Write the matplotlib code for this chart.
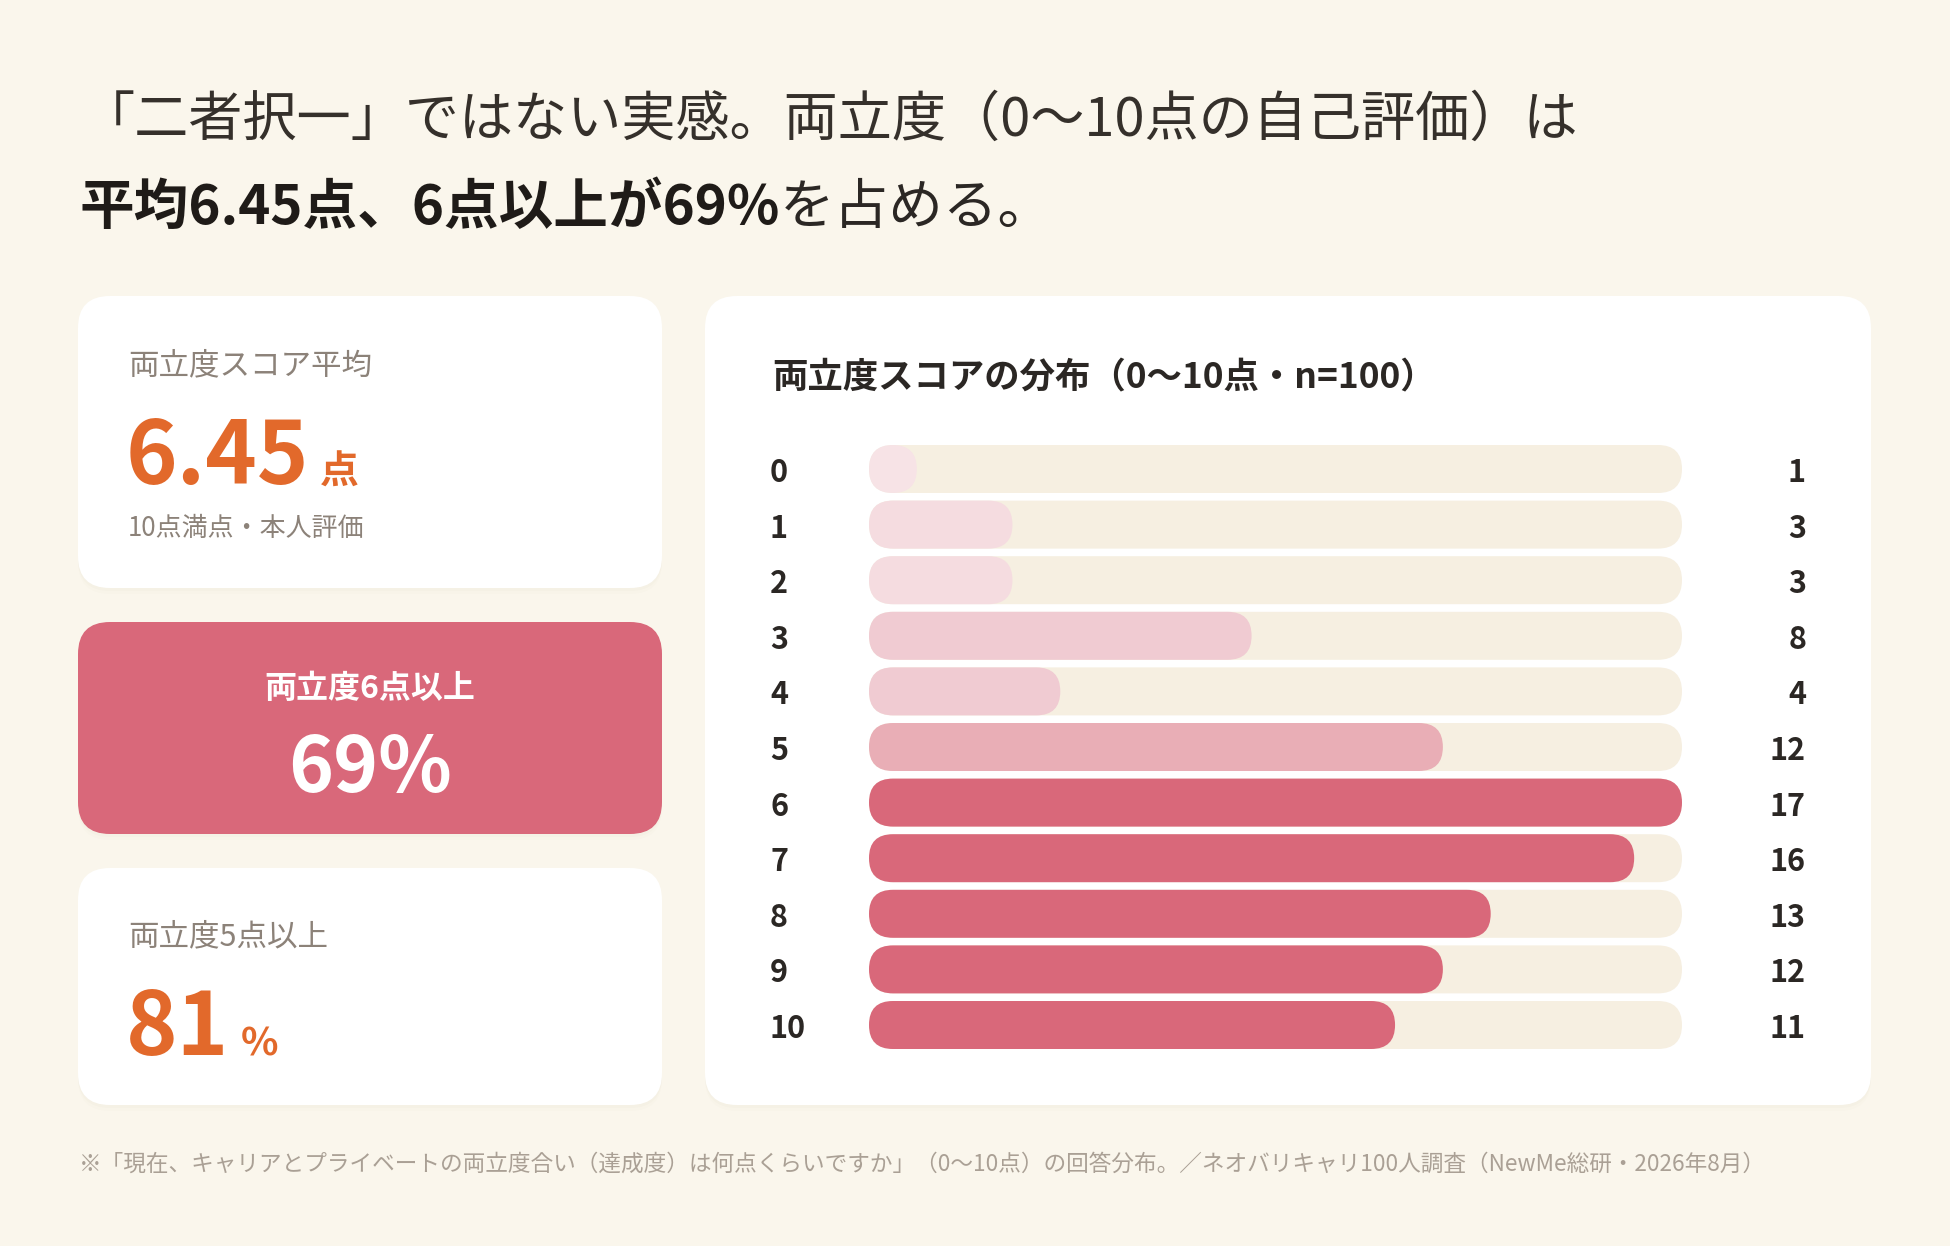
import matplotlib
matplotlib.use("Agg")
import matplotlib.pyplot as plt
import matplotlib.transforms as mtransforms
from matplotlib.patches import FancyBboxPatch

plt.rcParams['font.family'] = ['Noto Sans CJK JP', 'DejaVu Sans']

# データ
scores = ["0", "1", "2", "3", "4", "5", "6", "7", "8", "9", "10"]
counts = [1, 3, 3, 8, 4, 12, 17, 16, 13, 12, 11]
bar_colors = ["#f7e3e6", "#f5dce0", "#f5dce0", "#f0cbd2", "#f0cbd2", "#e9aeb6",
              "#d9687a", "#d9687a", "#d9687a", "#d9687a", "#d9687a"]

avg_label = "両立度スコア平均"
avg_value = "6.45"
avg_unit = "点"
avg_note = "10点満点・本人評価"
six_label = "両立度6点以上"
six_value = "69%"
five_label = "両立度5点以上"
five_value = "81"
five_unit = "%"

title_1 = "「二者択一」ではない実感。両立度（0〜10点の自己評価）は"
title_2_bold = "平均6.45点、6点以上が69%"
title_2_rest = "を占める。"
chart_title = "両立度スコアの分布（0〜10点・n=100）"
footnote = ("※「現在、キャリアとプライベートの両立度合い（達成度）は何点くらいですか」"
            "（0〜10点）の回答分布。／ネオバリキャリ100人調査（NewMe総研・2026年8月）")

BG = "#faf6ec"
PINK = "#d9687a"
ORANGE = "#e2692b"
DARK = "#2b2724"
GRAY = "#8c8279"
TRACK = "#f6efe1"

W, H = 1950, 1246
fig = plt.figure(figsize=(W / 100, H / 100), dpi=100)
fig.patch.set_facecolor(BG)
bg = fig.add_axes([0, 0, 1, 1])
bg.set_xlim(0, W)
bg.set_ylim(H, 0)
bg.axis('off')


def card(x0, y0, x1, y1, fc):
    # うっすら影
    for off, a in [(6, 0.025), (3, 0.04)]:
        bg.add_patch(FancyBboxPatch((x0, y0 + off), x1 - x0, y1 - y0,
                                    boxstyle="round,pad=0,rounding_size=32",
                                    fc="#b8a88a", ec="none", alpha=a))
    bg.add_patch(FancyBboxPatch((x0, y0), x1 - x0, y1 - y0,
                                boxstyle="round,pad=0,rounding_size=32",
                                fc=fc, ec="none"))


card(78, 296, 662, 588, "white")
card(78, 622, 662, 834, PINK)
card(78, 868, 662, 1105, "white")
card(705, 296, 1871, 1105, "white")

renderer = fig.canvas.get_renderer()

# タイトル
bg.text(81, 120, title_1, fontsize=39, color="#35302b", va="center", ha="left")
t2 = bg.text(79, 208, title_2_bold, fontsize=39.3, color="#1f1b18", fontweight="bold",
             va="center", ha="left")
x_end = t2.get_window_extent(renderer).x1
bg.text(x_end, 208, title_2_rest, fontsize=39.3, color="#2b2724", va="center", ha="left")

# カード1
bg.text(128, 366, avg_label, fontsize=22, color=GRAY, va="center", ha="left")
n1 = bg.text(126, 484, avg_value, fontsize=63, color=ORANGE, fontweight="bold",
             va="baseline", ha="left")
x_end = n1.get_window_extent(renderer).x1
bg.text(x_end + 10, 484, avg_unit, fontsize=28, color=ORANGE, fontweight="bold",
        va="baseline", ha="left")
bg.text(128, 528, avg_note, fontsize=18.7, color=GRAY, va="center", ha="left")

# カード2
bg.text(370, 689, six_label, fontsize=23, color="white", fontweight="bold",
        va="center", ha="center")
bg.text(370, 792, six_value, fontsize=55, color="white", fontweight="bold",
        va="baseline", ha="center")

# カード3
bg.text(128, 937, five_label, fontsize=22, color=GRAY, va="center", ha="left")
n3 = bg.text(126, 1055, five_value, fontsize=63, color=ORANGE, fontweight="bold",
             va="baseline", ha="left")
x_end = n3.get_window_extent(renderer).x1
bg.text(x_end + 12, 1055, five_unit, fontsize=28, color=ORANGE, fontweight="bold",
        va="baseline", ha="left")

# 分布チャート
bg.text(772, 378, chart_title, fontsize=25.5, color=DARK, fontweight="bold",
        va="center", ha="left")

row_top, row_step, bar_px = 469, 55.6, 48
track_x0, track_x1 = 869, 1682
n = len(scores)
ax_top = row_top - row_step / 2
ax_h = row_step * n
ax = fig.add_axes([track_x0 / W, (H - ax_top - ax_h) / H, (track_x1 - track_x0) / W, ax_h / H])
vmax = max(counts)
ax.set_xlim(0, vmax)
ax.set_ylim(n - 0.5, -0.5)
ax.axis('off')
ax.patch.set_alpha(0)

bar_h = bar_px / row_step
ypos = list(range(n))
tracks = ax.barh(ypos, [vmax] * n, height=bar_h, color="none")
fills = ax.barh(ypos, counts, height=bar_h, color="none")

# 角丸に置き換え
x_per_px = vmax / (track_x1 - track_x0)
y_per_px = 1 / row_step
aspect = y_per_px / x_per_px
for bars, cols in [(tracks, [TRACK] * n), (fills, bar_colors)]:
    for b, c in zip(bars, cols):
        x, y, w, h = b.get_x(), b.get_y(), b.get_width(), b.get_height()
        r = min(h / aspect / 2, w / 2)
        ax.add_patch(FancyBboxPatch((x, y), w, h,
                                    boxstyle=f"round,pad=0,rounding_size={r}",
                                    mutation_aspect=aspect, fc=c, ec="none"))
        b.remove()

lab_tr = mtransforms.blended_transform_factory(bg.transData, ax.transData)
off = 4 / row_step
for i, (s, v) in enumerate(zip(scores, counts)):
    ax.text(770, i + off, s, transform=lab_tr, fontsize=22, fontweight="bold", color=DARK,
            va="center", ha="left")
    ax.text(1806, i + off, str(v), transform=lab_tr, fontsize=22, fontweight="bold", color=DARK,
            va="center", ha="right")

# 注記
bg.text(79, 1164, footnote, fontsize=16.3, color="#aaa095", va="center", ha="left")

fig.savefig("out.png", dpi=100, facecolor=BG)
